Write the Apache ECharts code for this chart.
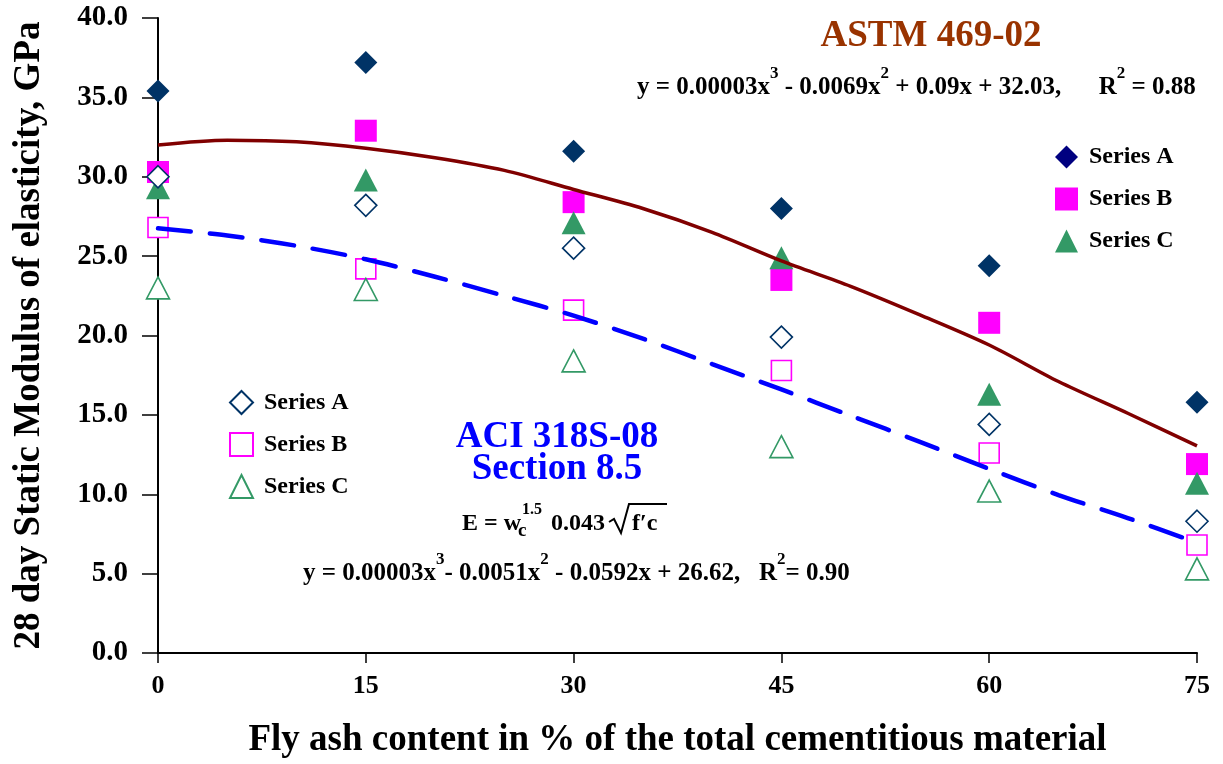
<!DOCTYPE html>
<html>
<head>
<meta charset="utf-8">
<script src="https://cdn.jsdelivr.net/npm/echarts@6/dist/echarts.min.js"></script>
<style>
html,body{margin:0;padding:0;background:#fff;overflow:hidden;}
#chart{width:1223px;height:764px;}
</style>
</head>
<body>
<div id="chart"></div>
<script>
// ---- data ----
var flyAsh = [0, 15, 30, 45, 60, 75];
var filledA = [35.4, 37.2, 31.6, 28.0, 24.4, 15.8];
var filledB = [30.3, 32.9, 28.4, 23.5, 20.8, 11.9];
var filledC = [29.3, 29.8, 27.1, 24.9, 16.3, 10.7];
var openA = [30.0, 28.2, 25.5, 19.9, 14.4, 8.3];
var openB = [26.8, 24.2, 21.6, 17.8, 12.6, 6.8];
var openC = [23.0, 22.9, 18.4, 13.0, 10.2, 5.3];
var curveX = [0, 5, 10, 15, 20, 25, 30, 35, 40, 45, 50, 55, 60, 65, 70, 75];
var astmCurve = [32.0, 32.3, 32.2, 31.8, 31.2, 30.4, 29.2, 28.0, 26.5, 24.7, 23.1, 21.3, 19.4, 17.1, 15.1, 13.05];
var aciCurve = [26.75, 26.3, 25.65, 24.8, 23.7, 22.5, 21.25, 19.8, 18.2, 16.6, 14.95, 13.3, 11.6, 9.95, 8.5, 6.95];
var yTicks = ['0.0','5.0','10.0','15.0','20.0','25.0','30.0','35.0','40.0'];
var xTicks = ['0','15','30','45','60','75'];

function pairs(xs, ys){ return xs.map(function(x,i){ return [x, ys[i]]; }); }

var FONT = '"Liberation Serif", "Times New Roman", serif';
var navy = '#003366', magenta = '#ff00ff', green = '#339966';

function scatter(name, data, symbol, size, filled, color){
  return {
    name: name, type: 'scatter', data: pairs(flyAsh, data), symbol: symbol, symbolSize: size, z: 2,
    itemStyle: filled ? {color: color, borderWidth: 0, opacity: 1} : {color: '#ffffff', borderColor: color, borderWidth: 1.6, opacity: 1},
    emphasis: {disabled: true}
  };
}

var eqRich = {
  m: {fontFamily: FONT, fontWeight: 'bold', fontSize: 25, fill: '#000', lineHeight: 45},
  s: {fontFamily: FONT, fontWeight: 'bold', fontSize: 17, fill: '#000', verticalAlign: 'top', lineHeight: 13}
};

function txt(x, y, text, size, color, align, extra){
  var st = {text: text, fontFamily: FONT, fontWeight: 'bold', fontSize: size, fill: color || '#000',
            textAlign: align || 'left', textVerticalAlign: 'middle'};
  if (extra) for (var k in extra) st[k] = extra[k];
  return {type: 'text', x: x, y: y, z: 10, style: st};
}

var chart = echarts.init(document.getElementById('chart'), null, {renderer: 'canvas', width: 1223, height: 764});
var option = {
  animation: false,
  backgroundColor: '#ffffff',
  grid: {left: 158, right: 26, top: 18, bottom: 107, containLabel: false},
  xAxis: {
    type: 'value', min: 0, max: 75, interval: 15,
    name: 'Fly ash content in % of the total cementitious material',
    nameLocation: 'middle', nameGap: 69,
    nameTextStyle: {fontFamily: FONT, fontWeight: 'bold', fontSize: 37, color: '#000'},
    axisLine: {show: true, onZero: false, lineStyle: {color: '#000', width: 2}},
    axisTick: {show: true, length: 10, lineStyle: {color: '#000', width: 1.5}},
    axisLabel: {margin: 20, fontFamily: FONT, fontWeight: 'bold', fontSize: 26, color: '#000',
      formatter: function(v){ return xTicks[flyAsh.indexOf(v)]; }},
    splitLine: {show: false}
  },
  yAxis: {
    type: 'value', min: 0, max: 40, interval: 5,
    name: '28 day Static Modulus of elasticity, GPa',
    nameLocation: 'middle', nameGap: 110, nameRotate: 90,
    nameTextStyle: {fontFamily: FONT, fontWeight: 'bold', fontSize: 37, color: '#000'},
    axisLine: {show: true, onZero: false, lineStyle: {color: '#000', width: 2}},
    axisTick: {show: true, length: 16, lineStyle: {color: '#000', width: 1.5}},
    axisLabel: {margin: 30, fontFamily: FONT, fontWeight: 'bold', fontSize: 29, color: '#000',
      formatter: function(v){ return yTicks[Math.round(v/5)]; }},
    splitLine: {show: false}
  },
  legend: [
    {
      orient: 'vertical', left: 1050, top: 140, itemWidth: 23, itemHeight: 23, itemGap: 18,
      data: [{name: 'Series A (filled)', itemStyle: {color: '#000080'}}, 'Series B (filled)', 'Series C (filled)'],
      formatter: function(n){ return n.split(' (')[0]; },
      textStyle: {fontFamily: FONT, fontWeight: 'bold', fontSize: 24, lineHeight: 23, color: '#000', padding: [0,0,0,6]},
      selectedMode: false
    },
    {
      orient: 'vertical', left: 224, top: 385, itemWidth: 23, itemHeight: 23, itemGap: 17,
      data: ['Series A (open)', 'Series B (open)', 'Series C (open)'],
      formatter: function(n){ return n.split(' (')[0]; },
      textStyle: {fontFamily: FONT, fontWeight: 'bold', fontSize: 24, lineHeight: 23, color: '#000', padding: [0,0,0,6]},
      selectedMode: false
    }
  ],
  series: [
    scatter('Series A (filled)', filledA, 'diamond', [23, 23], true, navy),
    scatter('Series B (filled)', filledB, 'rect', [22, 22], true, magenta),
    scatter('Series C (filled)', filledC, 'triangle', [24, 23], true, green),
    scatter('Series A (open)', openA, 'diamond', [22, 22], false, navy),
    scatter('Series B (open)', openB, 'rect', [20, 20], false, magenta),
    scatter('Series C (open)', openC, 'triangle', [23, 22], false, green),
    {
      name: 'ASTM', type: 'line', data: pairs(curveX, astmCurve), showSymbol: false, smooth: 0.3, z: 3,
      lineStyle: {color: '#800000', width: 3.5}, emphasis: {disabled: true}
    },
    {
      name: 'ACI', type: 'line', data: pairs(curveX, aciCurve), showSymbol: false, smooth: 0.3, z: 3,
      lineStyle: {color: '#0000ff', width: 4.5, type: [33, 19], cap: 'round'}, emphasis: {disabled: true}
    }
  ],
  graphic: [
    txt(931, 36, 'ASTM 469-02', 37, '#993300', 'center'),
    txt(637, 88, '{m|y = 0.00003x}{s|3}{m| - 0.0069x}{s|2}{m| + 0.09x + 32.03,      R}{s|2}{m| = 0.88}', 25, '#000', 'left', {rich: eqRich}),
    txt(557, 437, 'ACI 318S-08', 37, '#0000ff', 'center'),
    txt(557, 469, 'Section 8.5', 37, '#0000ff', 'center'),
    txt(462, 524, 'E = w', 24, '#000', 'left'),
    txt(522, 510, '1.5', 16, '#000', 'left'),
    txt(518, 531, 'c', 19, '#000', 'left'),
    txt(551, 524, '0.043', 24, '#000', 'left'),
    {type: 'polyline', z: 10,
      shape: {points: [[609, 522], [614, 519], [621, 533], [629, 504], [667, 504]]},
      style: {stroke: '#000', lineWidth: 2, fill: null}},
    txt(632, 524, 'f\u2032c', 24, '#000', 'left'),
    txt(303, 574, '{m|y = 0.00003x}{s|3}{m|- 0.0051x}{s|2}{m| - 0.0592x + 26.62,   R}{s|2}{m|= 0.90}', 25, '#000', 'left', {rich: eqRich})
  ]
};
chart.setOption(option);
</script>
</body>
</html>
